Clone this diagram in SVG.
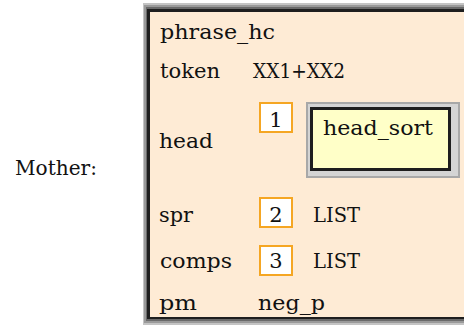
<svg xmlns="http://www.w3.org/2000/svg" width="464" height="325" viewBox="0 0 464 325">
  <style>
    text { font-family: "DejaVu Serif", "Liberation Serif", serif; font-size: 21px; fill: #111; }
    .tag { fill: #fff; stroke: #f5a623; stroke-width: 2; }
    .num { text-anchor: middle; }
  </style>
  <rect width="464" height="325" fill="#ffffff"/>

  <text x="15" y="175" textLength="82" lengthAdjust="spacingAndGlyphs">Mother:</text>

  <!-- outer feature structure with bevelled frame -->
  <g id="fs-phrase_hc">
    <rect x="143" y="3" width="330" height="322" fill="#c4c4c4"/>
    <rect x="144" y="5" width="330" height="318" fill="#9a9a9a"/>
    <rect x="146" y="7" width="330" height="314" fill="#6a6a6a"/>
    <rect x="147" y="9" width="330" height="310" fill="#1e1e1e"/>
    <rect x="150" y="12" width="330" height="305" fill="#feebd5"/>

    <text x="160" y="39" textLength="115" lengthAdjust="spacingAndGlyphs">phrase_hc</text>
    <text x="160" y="78" textLength="60" lengthAdjust="spacingAndGlyphs">token</text>
    <text x="253" y="78" textLength="92" lengthAdjust="spacingAndGlyphs">XX1+XX2</text>

    <text x="159" y="148" textLength="54" lengthAdjust="spacingAndGlyphs">head</text>
    <text x="159" y="222" textLength="34" lengthAdjust="spacingAndGlyphs">spr</text>
    <text x="160" y="268" textLength="72" lengthAdjust="spacingAndGlyphs">comps</text>
    <text x="159" y="310" textLength="38" lengthAdjust="spacingAndGlyphs">pm</text>
    <text x="258" y="310" textLength="67" lengthAdjust="spacingAndGlyphs">neg_p</text>
  </g>

  <g id="tag-1">
    <rect class="tag" x="260" y="103" width="32" height="29"/>
    <text class="num" x="276" y="127">1</text>
  </g>

  <g id="fs-head_sort">
    <rect x="306" y="102" width="154" height="76" fill="#a8a8a8"/>
    <rect x="308" y="104" width="150" height="72" fill="#d4d4d4"/>
    <rect x="310" y="107" width="141" height="64" fill="#1e1e1e"/>
    <rect x="313" y="110" width="135" height="58" fill="#ffffc8"/>
    <text x="323" y="135" textLength="110" lengthAdjust="spacingAndGlyphs">head_sort</text>
  </g>

  <g id="tag-2">
    <rect class="tag" x="260" y="198" width="32" height="29"/>
    <text class="num" x="276" y="222">2</text>
    <text x="313" y="222" textLength="47" lengthAdjust="spacingAndGlyphs">LIST</text>
  </g>

  <g id="tag-3">
    <rect class="tag" x="260" y="246" width="32" height="29"/>
    <text class="num" x="276" y="268">3</text>
    <text x="313" y="268" textLength="47" lengthAdjust="spacingAndGlyphs">LIST</text>
  </g>
</svg>
